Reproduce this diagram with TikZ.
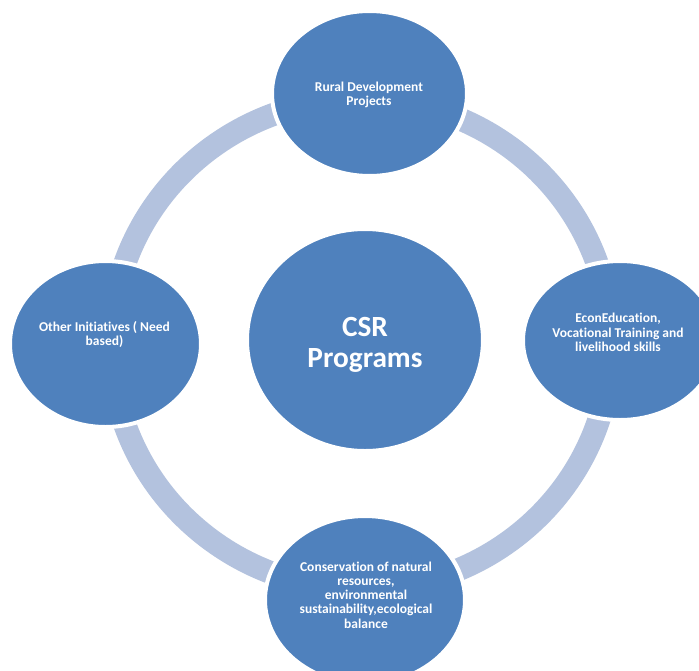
\documentclass[tikz,border=0pt]{standalone}
\usepackage{fontspec}
\setmainfont{Carlito}[Ligatures=NoCommon]
\usetikzlibrary{shapes.geometric}
\definecolor{nodeblue}{RGB}{79,129,189}
\definecolor{ringblue}{RGB}{179,194,222}
\begin{document}
\begin{tikzpicture}[x=1pt,y=-1pt,
  bubble/.style={ellipse, fill=nodeblue, draw=white, line width=4pt, inner sep=0pt, outer sep=0pt},
  lbl/.style={text=white, font=\bfseries\fontsize{13.5}{14.2}\selectfont, align=center, inner sep=0pt},
  big/.style={text=white, font=\bfseries\fontsize{29.3}{31}\selectfont, align=center, inner sep=0pt}]
\clip (0,0) rectangle (699,670);
\useasboundingbox (0,0) rectangle (699,670);
\fill[white] (0,0) rectangle (699,670);
\draw[ringblue, line width=23pt] (361,344) ellipse [x radius=250pt, y radius=245pt];
\node[bubble, minimum width=195pt, minimum height=165pt] (top) at (369.5,93.5) {};
\node[bubble, minimum width=194pt, minimum height=159pt] (right) at (620,340.5) {};
\node[bubble, minimum width=191pt, minimum height=166pt] (left) at (105.5,344) {};
\node[bubble, minimum width=200pt, minimum height=168pt] (bottom) at (365,600) {};
\node[bubble, minimum width=236pt, minimum height=222pt] (center) at (365,340) {};
\node[lbl] (topt) at (369,95) {Rural Development\\Projects};
\node[lbl] (rightt) at (618,332.5) {EconEducation,\\Vocational Training and\\livelihood skills};
\node[lbl] (leftt) at (104.5,334.5) {Other Initiatives ( Need\\based)};
\node[lbl] (bott) at (366,595) {Conservation of natural\\resources,\\environmental\\sustainability,ecological\\balance};
\node[big] (ct) at (365,344.5) {CSR\\Programs};
\end{tikzpicture}
\end{document}
